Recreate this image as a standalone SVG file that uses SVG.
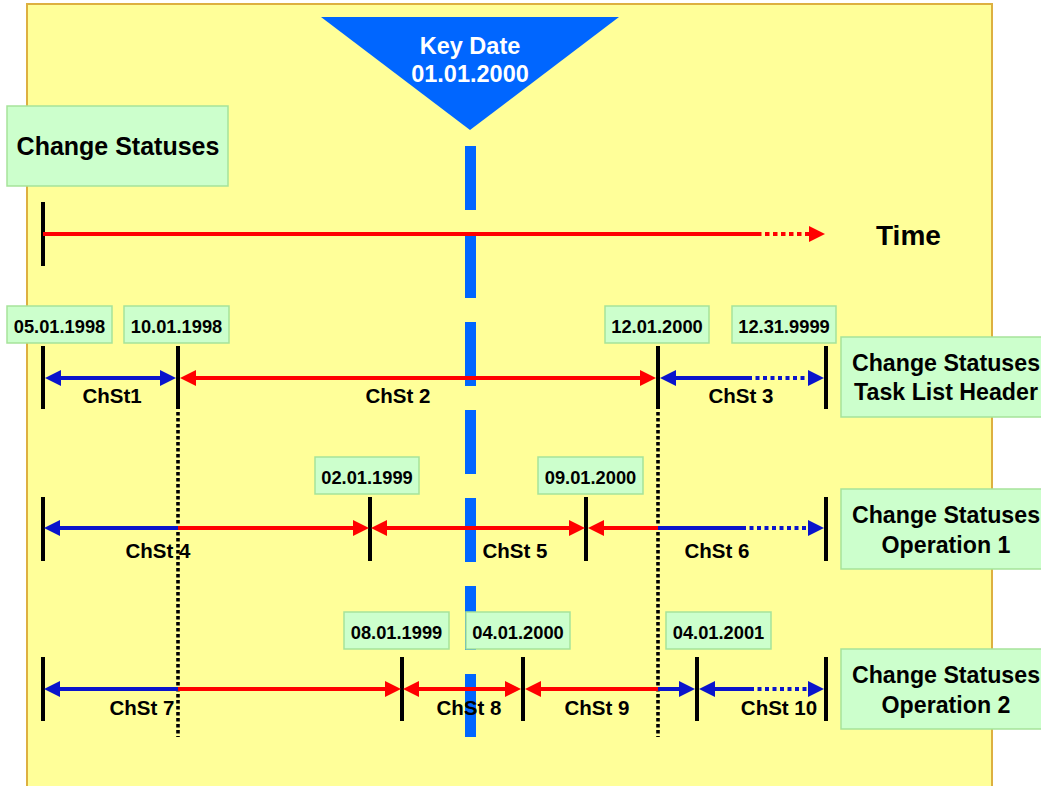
<svg xmlns="http://www.w3.org/2000/svg" width="1041" height="786" viewBox="0 0 1041 786">
  <style>
    text { font-family: "Liberation Sans", Arial, sans-serif; font-weight: bold; fill: #000; }
    .box { fill: #CCFFCC; stroke: #A6E39A; stroke-width: 1.5; }
    .date { font-size: 18.3px; text-anchor: middle; }
    .lbl { font-size: 20.5px; text-anchor: middle; }
    .side { font-size: 23.2px; text-anchor: middle; }
    .tick { stroke: #000; stroke-width: 4; fill: none; }
    .vdot { stroke: #000; stroke-width: 3.6; stroke-dasharray: 3.4 2.6; fill: none; }
    .red { stroke: #FF0000; stroke-width: 4; fill: none; }
    .blue { stroke: #0A14CC; stroke-width: 4; fill: none; }
    .rdot { stroke: #FF0000; stroke-width: 4; stroke-dasharray: 4.5 3.5; fill: none; }
    .bdot { stroke: #0A14CC; stroke-width: 4; stroke-dasharray: 4 3.5; fill: none; }
    .rs { marker-start: url(#ahR); }
    .re { marker-end: url(#ahR); }
    .bs { marker-start: url(#ahB); }
    .be { marker-end: url(#ahB); }
  </style>
  <defs>
    <marker id="ahR" viewBox="0 0 16 16" refX="0" refY="8" markerWidth="16" markerHeight="16" markerUnits="userSpaceOnUse" orient="auto-start-reverse">
      <path d="M0,0 L16,8 L0,16 z" fill="#FF0000"/>
    </marker>
    <marker id="ahB" viewBox="0 0 16 16" refX="0" refY="8" markerWidth="16" markerHeight="16" markerUnits="userSpaceOnUse" orient="auto-start-reverse">
      <path d="M0,0 L16,8 L0,16 z" fill="#0A14CC"/>
    </marker>
  </defs>

  <!-- background -->
  <rect id="background" x="27" y="4" width="965" height="790" fill="#FFFF99" stroke="#DDB040" stroke-width="2"/>

  <!-- key date line and marker -->
  <g id="keydate">
    <line x1="470.5" y1="146" x2="470.5" y2="737" stroke="#0066FF" stroke-width="11" stroke-dasharray="64 24"/>
    <polygon points="321,17 619,17 470,130" fill="#0066FF"/>
    <text x="470" y="54" font-size="23.5" text-anchor="middle" style="fill:#fff">Key Date</text>
    <text x="470" y="82" font-size="23.5" text-anchor="middle" style="fill:#fff">01.01.2000</text>
  </g>

  <g id="title">
    <rect class="box" x="7" y="106" width="221" height="80"/>
    <text x="118" y="155" font-size="25" text-anchor="middle">Change Statuses</text>
  </g>

  <g id="time-label">
    <text x="876" y="245" font-size="28">Time</text>
  </g>

  <!-- ticks -->
  <g id="ticks">
    <line class="tick" x1="43" y1="202" x2="43" y2="266"/>
    <line class="tick" x1="43" y1="346" x2="43" y2="409"/>
    <line class="tick" x1="178" y1="346" x2="178" y2="409"/>
    <line class="tick" x1="658" y1="346" x2="658" y2="409"/>
    <line class="tick" x1="826" y1="346" x2="826" y2="409"/>
    <line class="tick" x1="43" y1="497" x2="43" y2="561"/>
    <line class="tick" x1="370" y1="497" x2="370" y2="561"/>
    <line class="tick" x1="586" y1="497" x2="586" y2="561"/>
    <line class="tick" x1="826" y1="497" x2="826" y2="561"/>
    <line class="tick" x1="43" y1="657" x2="43" y2="721"/>
    <line class="tick" x1="402" y1="657" x2="402" y2="721"/>
    <line class="tick" x1="523" y1="657" x2="523" y2="721"/>
    <line class="tick" x1="697" y1="657" x2="697" y2="721"/>
    <line class="tick" x1="826" y1="657" x2="826" y2="721"/>
    <line class="vdot" x1="178" y1="412" x2="178" y2="737"/>
    <line class="vdot" x1="658" y1="412" x2="658" y2="737"/>
  </g>

  <!-- connectors -->
  <g id="connectors">
    <path class="red" d="M43,234 H757"/>
    <path class="rdot re" d="M757,234 H809"/>
    <!-- row 1 -->
    <path class="blue bs be" d="M61,378 H160"/>
    <path class="red rs re" d="M196,378 H640"/>
    <path class="blue bs" d="M676,378 H748"/>
    <path class="bdot be" d="M748,378 H808"/>
    <!-- row 2 -->
    <path class="blue bs" d="M60,528 H178"/>
    <path class="red re" d="M178,528 H353"/>
    <path class="red rs re" d="M387,528 H569"/>
    <path class="red rs" d="M604,528 H658"/>
    <path class="blue" d="M658,528 H742"/>
    <path class="bdot be" d="M742,528 H808"/>
    <!-- row 3 -->
    <path class="blue bs" d="M60,689 H178"/>
    <path class="red re" d="M178,689 H385"/>
    <path class="red rs re" d="M419,689 H505"/>
    <path class="red rs" d="M541,689 H658"/>
    <path class="blue be" d="M658,689 H679"/>
    <path class="blue bs" d="M715,689 H750"/>
    <path class="bdot be" d="M750,689 H808"/>
  </g>

  <!-- segment labels -->
  <g id="labels">
    <text class="lbl" x="112" y="403">ChSt1</text>
    <text class="lbl" x="398" y="403">ChSt 2</text>
    <text class="lbl" x="741" y="403">ChSt 3</text>
    <text class="lbl" x="158" y="558">ChSt 4</text>
    <text class="lbl" x="515" y="558">ChSt 5</text>
    <text class="lbl" x="717" y="558">ChSt 6</text>
    <text class="lbl" x="142" y="715">ChSt 7</text>
    <text class="lbl" x="469" y="715">ChSt 8</text>
    <text class="lbl" x="597" y="715">ChSt 9</text>
    <text class="lbl" x="779" y="715">ChSt 10</text>
  </g>

  <!-- date boxes -->
  <g id="d-05011998"><rect class="box" x="7" y="306" width="105" height="37"/><text class="date" x="59.5" y="333">05.01.1998</text></g>
  <g id="d-10011998"><rect class="box" x="124" y="306" width="105" height="37"/><text class="date" x="176.5" y="333">10.01.1998</text></g>
  <g id="d-12012000"><rect class="box" x="605" y="306" width="104" height="37"/><text class="date" x="657" y="333">12.01.2000</text></g>
  <g id="d-12319999"><rect class="box" x="732" y="306" width="104" height="37"/><text class="date" x="784" y="333">12.31.9999</text></g>
  <g id="d-02011999"><rect class="box" x="315" y="457" width="104" height="37"/><text class="date" x="367" y="484">02.01.1999</text></g>
  <g id="d-09012000"><rect class="box" x="538" y="457" width="105" height="37"/><text class="date" x="590.5" y="484">09.01.2000</text></g>
  <g id="d-08011999"><rect class="box" x="344" y="612" width="105" height="37"/><text class="date" x="396.5" y="639">08.01.1999</text></g>
  <g id="d-04012000"><rect class="box" x="466" y="612" width="104" height="37"/><text class="date" x="518" y="639">04.01.2000</text></g>
  <g id="d-04012001"><rect class="box" x="666" y="612" width="105" height="37"/><text class="date" x="718.5" y="639">04.01.2001</text></g>

  <!-- side labels -->
  <g id="side-header">
    <rect class="box" x="841" y="337" width="220" height="80"/>
    <text class="side" x="946" y="371">Change Statuses</text>
    <text class="side" x="946" y="400">Task List Header</text>
  </g>
  <g id="side-op1">
    <rect class="box" x="841" y="489" width="220" height="80"/>
    <text class="side" x="946" y="523">Change Statuses</text>
    <text class="side" x="946" y="553">Operation 1</text>
  </g>
  <g id="side-op2">
    <rect class="box" x="841" y="649" width="220" height="80"/>
    <text class="side" x="946" y="683">Change Statuses</text>
    <text class="side" x="946" y="713">Operation 2</text>
  </g>
</svg>
